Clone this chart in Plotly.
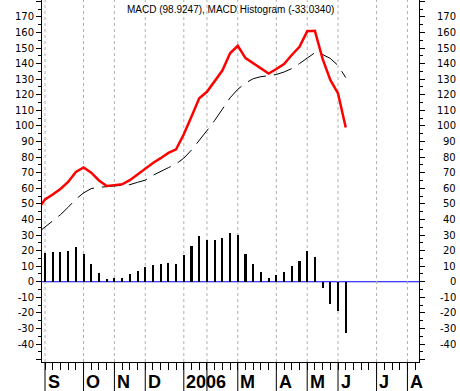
import plotly.graph_objects as go

# ---------------- data (weekly bars, index 0 = first week of Sep 2005) ----------------
weeks = list(range(-1, 40))
macd = [46.0, 52.8, 56.0, 59.5, 64.0, 70.5, 73.3, 70.0, 65.0, 61.5, 62.0,
        62.5, 65.2, 68.8, 72.8, 76.2, 79.3, 82.7, 85.0, 94.6, 106.0,
        117.7, 121.9, 128.4, 135.5, 146.6, 151.4, 143.5, 140.2, 136.5, 133.6,
        136.5, 139.7, 145.5, 150.8, 160.7, 161.0, 143.0, 129.5, 120.8, 98.9247]
signal = [31.2, 35.1, 39.1, 43.0, 47.8, 53.0, 57.0, 59.8, 60.6, 61.0, 61.3,
          61.5, 62.3, 63.8, 65.2, 68.3, 71.0, 73.2, 75.6, 79.3, 84.5,
          90.5, 97.0, 103.5, 111.0, 118.0, 123.5, 127.5, 130.3, 131.6, 132.2,
          133.0, 134.6, 136.8, 140.0, 143.8, 147.0, 145.8, 143.3, 138.8, 131.0]
hist_weeks = list(range(0, 40))
hist = [18.7, 18.9, 18.9, 19.5, 22.1, 17.6, 11.4, 5.4, 1.5, 2.1,
        2.1, 4.9, 6.9, 9.4, 10.5, 11.4, 12.0, 11.1, 17.1, 22.9,
        29.2, 26.6, 26.6, 28.3, 31.6, 30.3, 17.7, 11.3, 6.1, 2.3,
        4.6, 6.0, 10.1, 13.2, 19.6, 16.2, -4.1, -14.1, -18.7, -33.034]
month_labels = ["S", "O", "N", "D", "2006", "", "M", "A", "M", "J", "J", "A"]
month_weeks = [0, 5, 9, 13, 18, 21, 25, 30, 34, 38, 43, 47]
week_ticks = list(range(0, 49))
y_ticks = list(range(-50, 190, 10))
y_labels = ["" if v in (-50, 180) else str(v) for v in y_ticks]
title_text = "MACD (98.9247), MACD Histogram (-33.0340)"

X_RANGE = [-0.39, 48.5]
Y_RANGE = [-51.5, 180.8]
TICK_FONT = dict(family="DejaVu Sans", size=10, color="black")

fig = go.Figure()
fig.add_trace(go.Bar(x=hist_weeks, y=hist, width=0.27,
                     marker=dict(color="black", line=dict(width=0)),
                     showlegend=False, hoverinfo="skip"))
fig.add_trace(go.Scatter(x=weeks, y=signal, mode="lines",
                         line=dict(color="black", width=1, dash="19px,8px"),
                         showlegend=False, hoverinfo="skip"))
fig.add_trace(go.Scatter(x=weeks, y=macd, mode="lines",
                         line=dict(color="#ff0000", width=2.5),
                         showlegend=False, hoverinfo="skip"))
# invisible trace to carry the right-hand axis
fig.add_trace(go.Scatter(x=[0], y=[0], yaxis="y2", mode="markers",
                         marker=dict(opacity=0), showlegend=False, hoverinfo="skip"))

shapes = []
# zero line
shapes.append(dict(type="line", xref="paper", yref="y", x0=0, x1=1, y0=0, y1=0,
                   line=dict(color="#0000ff", width=1), layer="below"))
for w in month_weeks:
    # dashed month gridline inside the plot
    shapes.append(dict(type="line", xref="x", yref="paper", x0=w, x1=w, y0=0, y1=1,
                       line=dict(color="#b0b0b0", width=1, dash="3px,3px"), layer="below"))
    # solid month separator below the axis
    shapes.append(dict(type="line", xref="x", yref="paper", x0=w, x1=w, y0=0, y1=-0.085,
                       line=dict(color="black", width=1), layer="above"))

annotations = []
annotations.append(dict(text=title_text, xref="paper", yref="paper", x=0.5, y=1,
                        yshift=-9, xanchor="center", yanchor="middle", showarrow=False,
                        font=dict(family="Liberation Sans", size=10, color="black")))
for lab, w in zip(month_labels, month_weeks):
    if lab:
        annotations.append(dict(text=lab, xref="x", yref="paper", x=w, y=0,
                                xshift=0.5, yshift=-20, xanchor="left", yanchor="middle",
                                showarrow=False,
                                font=dict(family="Liberation Sans", size=18,
                                          color="black", weight="bold")))
for v, lab in zip(y_ticks, y_labels):
    if lab:
        annotations.append(dict(text=lab, xref="paper", yref="y", x=1.1034, y=v,
                                xanchor="right", yanchor="middle", showarrow=False,
                                font=TICK_FONT))

fig.update_layout(
    width=460, height=391,
    margin=dict(l=42, r=41, t=0, b=29, pad=0),
    paper_bgcolor="white", plot_bgcolor="white",
    bargap=0, showlegend=False,
    xaxis=dict(range=X_RANGE, showgrid=False, zeroline=False,
               showline=True, linecolor="black", linewidth=1,
               tickmode="array", tickvals=week_ticks, ticks="outside",
               ticklen=7, tickcolor="black", tickwidth=1, showticklabels=False),
    yaxis=dict(range=Y_RANGE, showgrid=False, zeroline=False,
               showline=True, linecolor="black", linewidth=1,
               tickmode="array", tickvals=y_ticks, ticktext=y_labels,
               ticks="outside", ticklen=5, tickcolor="black", tickwidth=1,
               tickfont=TICK_FONT,
               minor=dict(ticks="outside", ticklen=3, dtick=5, tick0=0,
                          tickcolor="black", showgrid=False)),
    yaxis2=dict(range=Y_RANGE, overlaying="y", side="right", showgrid=False,
                zeroline=False, showline=True, linecolor="black", linewidth=1,
                tickmode="array", tickvals=y_ticks, ticks="outside", ticklen=5,
                tickcolor="black", tickwidth=1, showticklabels=False,
                minor=dict(ticks="outside", ticklen=3, dtick=5, tick0=0,
                           tickcolor="black", showgrid=False)),
    shapes=shapes, annotations=annotations,
)

fig.write_html("out.html",
               config={"displayModeBar": False, "staticPlot": True},
               post_script="document.body.style.margin='0';document.body.style.overflow='hidden';")
